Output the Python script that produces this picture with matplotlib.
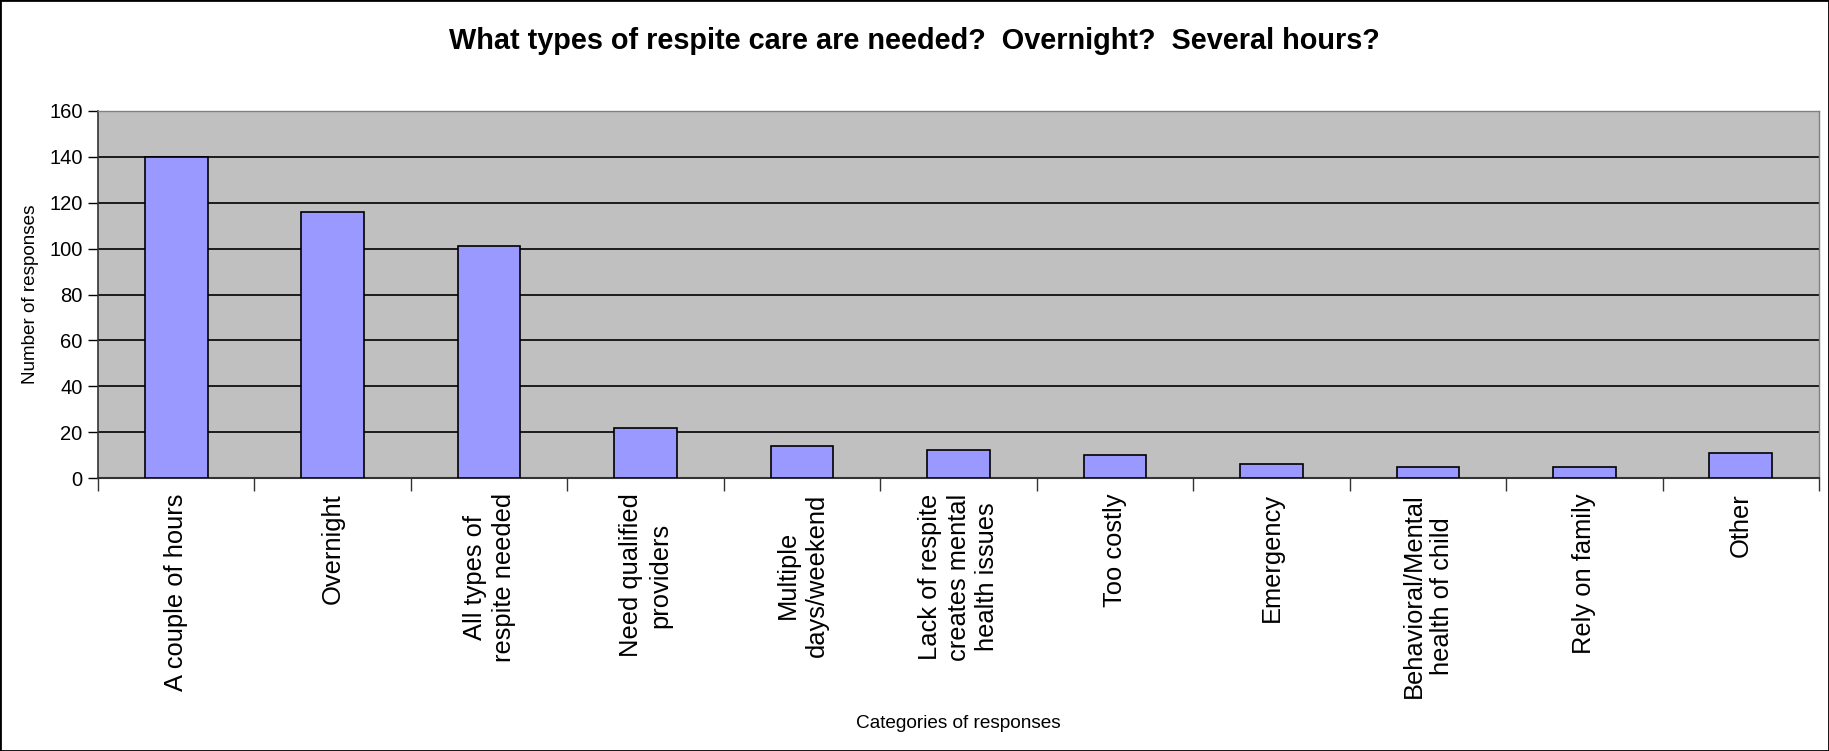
import matplotlib
matplotlib.use("Agg")
import matplotlib.pyplot as plt
from matplotlib.patches import Rectangle

categories = [
    "A couple of hours",
    "Overnight",
    "All types of\nrespite needed",
    "Need qualified\nproviders",
    "Multiple\ndays/weekend",
    "Lack of respite\ncreates mental\nhealth issues",
    "Too costly",
    "Emergency",
    "Behavioral/Mental\nhealth of child",
    "Rely on family",
    "Other",
]
values = [140, 116, 101, 22, 14, 12, 10, 6, 5, 5, 11]
yticks = [0, 20, 40, 60, 80, 100, 120, 140, 160]

title = "What types of respite care are needed?  Overnight?  Several hours?"
xlabel = "Categories of responses"
ylabel = "Number of responses"

W, H = 1829, 751
fig = plt.figure(figsize=(W / 100, H / 100), dpi=100)
fig.patch.set_facecolor("white")
ax = fig.add_axes([98 / W, 1 - 478 / H, (1819 - 98) / W, (478 - 111) / H])
ax.set_facecolor("#C0C0C0")

x = list(range(len(categories)))
ax.bar(x, values, width=0.4, color="#9999FF", edgecolor="black", linewidth=1.2, zorder=3)

ax.set_xlim(-0.5, len(categories) - 0.5)
ax.set_ylim(0, 160)
ax.set_yticks(yticks)
ax.set_yticklabels([str(v) for v in yticks], fontsize=14.5, family="Liberation Sans")
ax.yaxis.grid(True, color="black", linewidth=1.2, zorder=1)
ax.set_axisbelow(True)

# x ticks at category boundaries, labels at centers
ax.set_xticks([i + 0.5 for i in range(len(categories) - 1)] + [-0.5, len(categories) - 0.5])
ax.set_xticklabels([])
ax.tick_params(axis="x", which="major", length=9, width=1, color="#333333", direction="out")
ax.tick_params(axis="y", which="major", length=7, width=1, direction="out", pad=4)
ax.set_xticks(x, minor=True)
ax.set_xticklabels(categories, minor=True, rotation=90, fontsize=18.4,
                   family="Liberation Sans", va="top", ha="center",
                   multialignment="center", linespacing=1.25)
ax.tick_params(axis="x", which="minor", length=0, pad=11)

for s in ["top", "right"]:
    ax.spines[s].set_color("#808080")
    ax.spines[s].set_linewidth(1)
ax.spines["left"].set_color("#333333")
ax.spines["bottom"].set_color("#333333")
ax.spines["left"].set_linewidth(1.2)
ax.spines["bottom"].set_linewidth(1.5)

fig.text(0.5, 1 - 41 / H, title, ha="center", va="center", fontsize=20.8,
         fontweight="bold", family="Liberation Sans")
fig.text(958 / W, 1 - 724 / H, xlabel, ha="center", va="center", fontsize=13.7,
         family="Liberation Sans")
fig.text(31 / W, 1 - 294 / H, ylabel, ha="center", va="center", rotation=90, fontsize=13.6,
         family="Liberation Sans")

fig.patches.append(Rectangle((0, 0), 1, 1, transform=fig.transFigure, fill=False,
                             edgecolor="black", linewidth=2))

fig.savefig("out.png", dpi=100)
